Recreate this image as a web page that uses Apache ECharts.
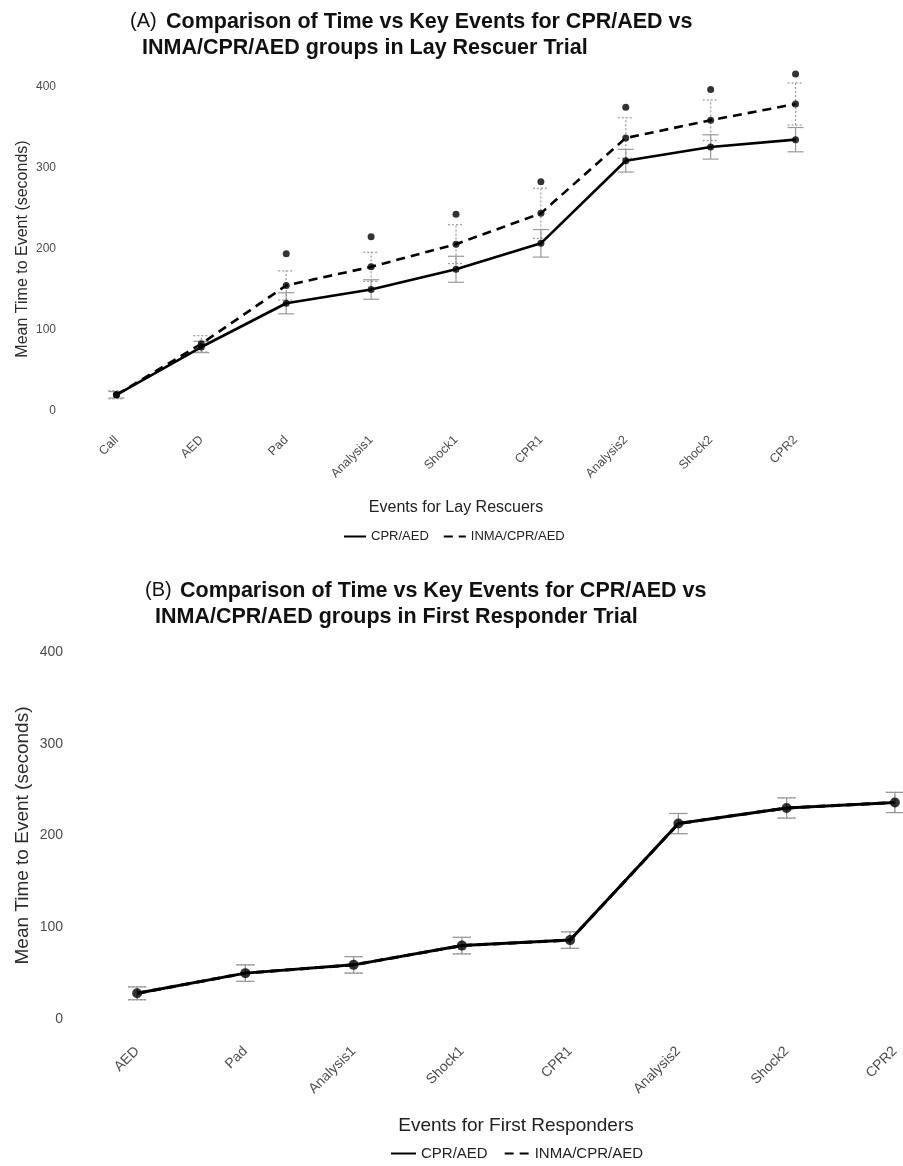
<!DOCTYPE html>
<html>
<head>
<meta charset="utf-8">
<script src="https://cdn.jsdelivr.net/npm/echarts@6/dist/echarts.min.js"></script>
<style>
  html, body { margin: 0; padding: 0; background: #fff; }
  #main { width: 903px; height: 1166px; }
</style>
</head>
<body>
<div id="main"></div>
<script>
// panel A - lay rescuers
var layEvents = ['Call', 'AED', 'Pad', 'Analysis1', 'Shock1', 'CPR1', 'Analysis2', 'Shock2', 'CPR2'];
var layCpr = [20, 79, 133, 150, 175, 207, 309, 326, 335];
var layCprErr = [4, 7, 13, 12, 16, 17, 14, 15, 15];
var layInma = [20, 83, 155, 178, 206, 244, 337, 359, 379];
var layInmaErr = [5, 10, 18, 18, 24, 31, 25, 25, 26];
var laySig = [null, null, 194, 215, 243, 283, 375, 397, 416];

// panel B - first responders
var frEvents = ['AED', 'Pad', 'Analysis1', 'Shock1', 'CPR1', 'Analysis2', 'Shock2', 'CPR2'];
var frCpr = [28, 50, 59, 80, 86, 213, 230, 236];
var frCprErr = [7, 9, 9, 9, 9, 11, 11, 11];
var frInma = [28, 50, 59, 80, 86, 213, 230, 236];
var frInmaErr = [7, 9, 9, 9, 9, 11, 11, 11];

var yTicks = [0, 100, 200, 300, 400];

var FONT = "'Liberation Sans', Arial, sans-serif";

function errData(means, errs) {
  return means.map(function (m, i) { return [i, m - errs[i], m + errs[i]]; });
}

function errRender(dashed, capW) {
  return function (params, api) {
    var i = api.value(0);
    var lo = api.coord([i, api.value(1)]);
    var hi = api.coord([i, api.value(2)]);
    var st = { stroke: '#999', lineWidth: 1.2, lineDash: dashed ? [2, 2] : null };
    return {
      type: 'group',
      children: [
        { type: 'line', shape: { x1: lo[0], y1: lo[1], x2: hi[0], y2: hi[1] }, style: st },
        { type: 'line', shape: { x1: lo[0] - capW, y1: lo[1], x2: lo[0] + capW, y2: lo[1] }, style: st },
        { type: 'line', shape: { x1: hi[0] - capW, y1: hi[1], x2: hi[0] + capW, y2: hi[1] }, style: st }
      ]
    };
  };
}

function yAxisCfg(gridIndex, labelSize, nameSize, nameGap, margin) {
  return {
    type: 'value', gridIndex: gridIndex,
    min: yTicks[0], max: yTicks[yTicks.length - 1], interval: 100,
    name: 'Mean Time to Event (seconds)', nameLocation: 'middle', nameGap: nameGap,
    nameMoveOverlap: false,
    nameTextStyle: { fontFamily: FONT, fontSize: nameSize, color: '#2b2b2b' },
    axisLine: { show: false }, axisTick: { show: false }, splitLine: { show: false },
    axisLabel: { fontFamily: FONT, fontSize: labelSize, color: '#4d4d4d', margin: margin }
  };
}

function xAxisCfg(gridIndex, cats, name, labelSize, nameSize, nameGap, margin) {
  return {
    type: 'category', gridIndex: gridIndex, data: cats,
    name: name, nameLocation: 'middle', nameGap: nameGap,
    nameMoveOverlap: false,
    nameTextStyle: { fontFamily: FONT, fontSize: nameSize, color: '#222' },
    axisLine: { show: false }, axisTick: { show: false }, splitLine: { show: false },
    axisLabel: { fontFamily: FONT, fontSize: labelSize, color: '#4d4d4d', rotate: 45, margin: margin, interval: 0 }
  };
}

var chart = echarts.init(document.getElementById('main'));

var option = {
  animation: false,
  backgroundColor: '#fff',
  title: [
    { text: '(A)', left: 130, top: 11, padding: 0, textStyle: { fontFamily: FONT, fontSize: 20, fontWeight: 'normal', color: '#111' } },
    { text: 'Comparison of Time vs Key Events for CPR/AED vs', left: 166, top: 11, padding: 0, textStyle: { fontFamily: FONT, fontSize: 21.5, fontWeight: 'bold', color: '#111' } },
    { text: 'INMA/CPR/AED groups in Lay Rescuer Trial', left: 142, top: 37, padding: 0, textStyle: { fontFamily: FONT, fontSize: 21.5, fontWeight: 'bold', color: '#111' } },
    { text: '(B)', left: 145, top: 580, padding: 0, textStyle: { fontFamily: FONT, fontSize: 20, fontWeight: 'normal', color: '#111' } },
    { text: 'Comparison of Time vs Key Events for CPR/AED vs', left: 180, top: 580, padding: 0, textStyle: { fontFamily: FONT, fontSize: 21.5, fontWeight: 'bold', color: '#111' } },
    { text: 'INMA/CPR/AED groups in First Responder Trial', left: 155, top: 606, padding: 0, textStyle: { fontFamily: FONT, fontSize: 21.5, fontWeight: 'bold', color: '#111' } }
  ],
  legend: [
    {
      left: 338, top: 525, itemWidth: 22, itemHeight: 14, itemGap: 14,
      data: ['CPR/AED', 'INMA/CPR/AED'],
      itemStyle: { opacity: 0 },
      textStyle: { fontFamily: FONT, fontSize: 13, color: '#222' }
    },
    {
      left: 385, top: 1141, itemWidth: 25, itemHeight: 14, itemGap: 16,
      data: ['CPR/AED', 'INMA/CPR/AED'],
      itemStyle: { opacity: 0 },
      textStyle: { fontFamily: FONT, fontSize: 15, color: '#222' }
    }
  ],
  grid: [
    { left: 74, width: 764, top: 87, height: 324, outerBoundsMode: 'none' },
    { left: 83, width: 866, top: 652, height: 367, outerBoundsMode: 'none' }
  ],
  xAxis: [
    xAxisCfg(0, layEvents, 'Events for Lay Rescuers', 12.5, 16, 89, 27),
    xAxisCfg(1, frEvents, 'Events for First Responders', 14, 19, 97, 30)
  ],
  yAxis: [
    yAxisCfg(0, 12, 16, 43, 18),
    yAxisCfg(1, 14, 19, 51, 20)
  ],
  series: [
    // panel A
    { type: 'custom', xAxisIndex: 0, yAxisIndex: 0, renderItem: errRender(false, 8), data: errData(layCpr, layCprErr), encode: { x: 0, y: [1, 2] }, z: 1, silent: true },
    { type: 'custom', xAxisIndex: 0, yAxisIndex: 0, renderItem: errRender(true, 8), data: errData(layInma, layInmaErr), encode: { x: 0, y: [1, 2] }, z: 1, silent: true },
    { name: 'CPR/AED', type: 'line', xAxisIndex: 0, yAxisIndex: 0, data: layCpr, symbol: 'none', lineStyle: { color: '#000', width: 2.6 }, itemStyle: { color: '#000' }, z: 3 },
    { name: 'INMA/CPR/AED', type: 'line', xAxisIndex: 0, yAxisIndex: 0, data: layInma, symbol: 'none', lineStyle: { color: '#000', width: 2.6, type: [9, 6] }, itemStyle: { color: '#000' }, z: 3 },
    { type: 'scatter', xAxisIndex: 0, yAxisIndex: 0, data: layCpr, symbolSize: 7, itemStyle: { color: '#000' }, z: 4, silent: true },
    { type: 'scatter', xAxisIndex: 0, yAxisIndex: 0, data: layInma, symbolSize: 7, itemStyle: { color: '#000' }, z: 4, silent: true },
    { type: 'scatter', xAxisIndex: 0, yAxisIndex: 0, data: laySig, symbolSize: 7, itemStyle: { color: '#000' }, z: 4, clip: false, silent: true },
    // panel B
    { type: 'custom', xAxisIndex: 1, yAxisIndex: 1, renderItem: errRender(true, 9), data: errData(frInma, frInmaErr), encode: { x: 0, y: [1, 2] }, z: 1, silent: true },
    { type: 'custom', xAxisIndex: 1, yAxisIndex: 1, renderItem: errRender(false, 9), data: errData(frCpr, frCprErr), encode: { x: 0, y: [1, 2] }, z: 1, silent: true },
    { name: 'INMA/CPR/AED', type: 'line', xAxisIndex: 1, yAxisIndex: 1, data: frInma, symbol: 'none', lineStyle: { color: '#000', width: 3, type: [9, 6] }, itemStyle: { color: '#000' }, z: 2 },
    { name: 'CPR/AED', type: 'line', xAxisIndex: 1, yAxisIndex: 1, data: frCpr, symbol: 'none', lineStyle: { color: '#000', width: 3 }, itemStyle: { color: '#000' }, z: 3 },
    { type: 'scatter', xAxisIndex: 1, yAxisIndex: 1, data: frCpr, symbolSize: 10, itemStyle: { color: '#000' }, z: 4, silent: true }
  ]
};

chart.setOption(option);
</script>
</body>
</html>
